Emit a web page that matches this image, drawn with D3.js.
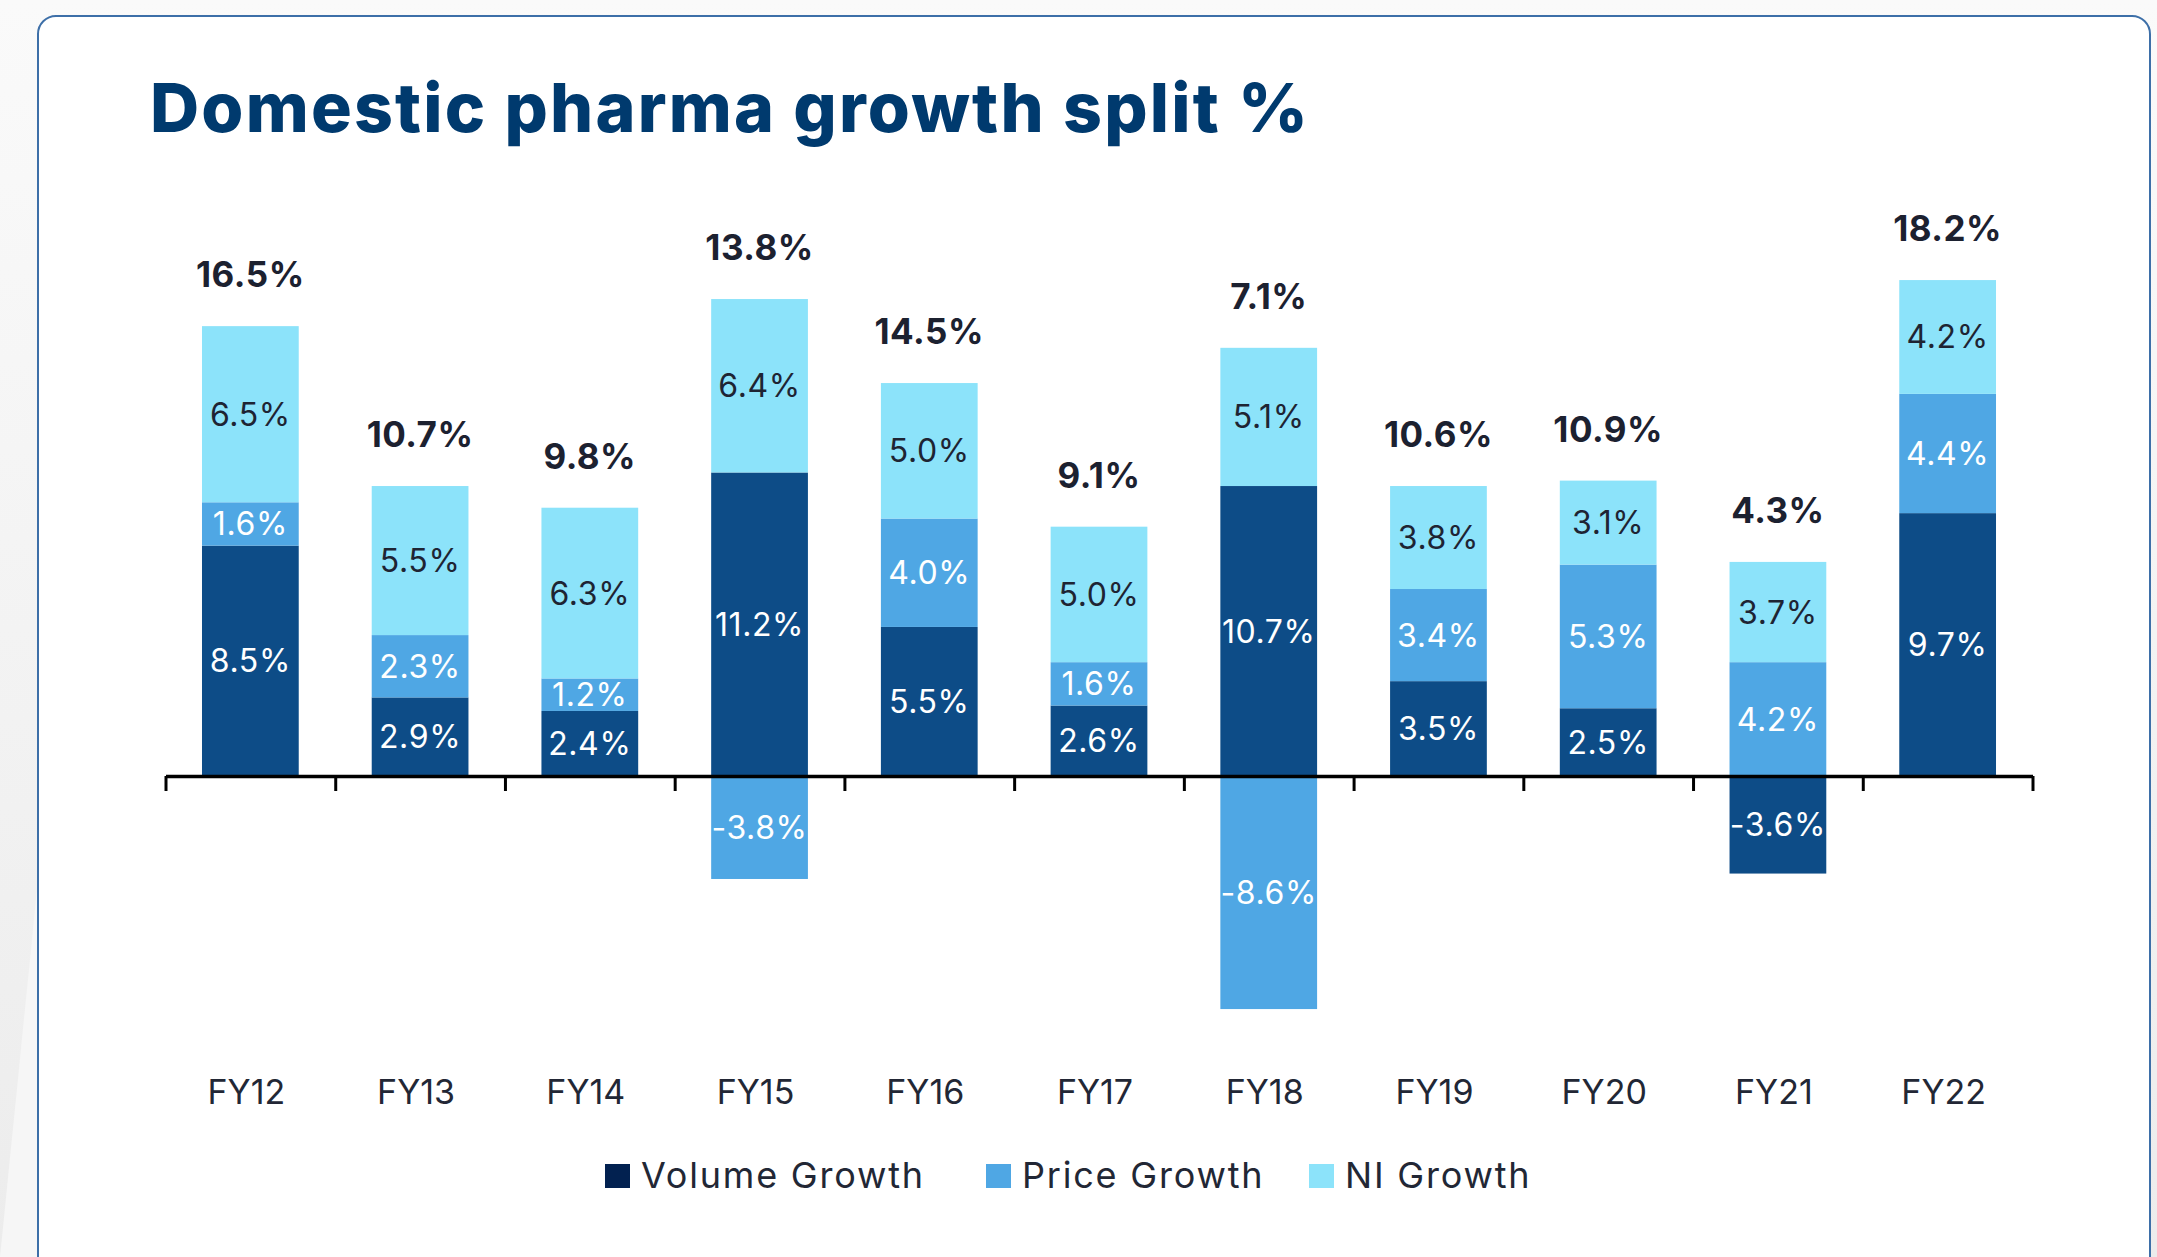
<!DOCTYPE html>
<html lang="en">
<head>
  <meta charset="UTF-8">
  <title>Domestic pharma growth split %</title>
  <script src="https://d3js.org/d3.v7.min.js"></script>
  <style>
    body { margin: 0; background: #f2f2f3; font-family: Inter, "Open Sans", sans-serif; }
    svg { display: block; }
  </style>
</head>
<body>
<svg width="2157" height="1257"></svg>
<script>
const categories = ["FY12", "FY13", "FY14", "FY15", "FY16", "FY17", "FY18", "FY19", "FY20", "FY21", "FY22"];
const volumeGrowth = [8.5, 2.9, 2.4, 11.2, 5.5, 2.6, 10.7, 3.5, 2.5, -3.6, 9.7];
const priceGrowth = [1.6, 2.3, 1.2, -3.8, 4.0, 1.6, -8.6, 3.4, 5.3, 4.2, 4.4];
const niGrowth = [6.5, 5.5, 6.3, 6.4, 5.0, 5.0, 5.1, 3.8, 3.1, 3.7, 4.2];
const totals = [16.5, 10.7, 9.8, 13.8, 14.5, 9.1, 7.1, 10.6, 10.9, 4.3, 18.2];

const seriesNames = ["Volume Growth", "Price Growth", "NI Growth"];
const keys = ["volume", "price", "ni"];
const barColors = { volume: "#0d4c87", price: "#4fa7e4", ni: "#8ce3fa" };
const legendColors = { volume: "#022150", price: "#4fa7e4", ni: "#8ce3fa" };
const textColors = { volume: "#ffffff", price: "#ffffff", ni: "#1e2433" };

const rows = categories.map((c, i) => ({
  cat: c, volume: volumeGrowth[i], price: priceGrowth[i], ni: niGrowth[i], total: totals[i]
}));

const svg = d3.select("svg");

// page background + card
const defs = svg.append("defs");
const bg = defs.append("linearGradient").attr("id", "bg").attr("x1", 0).attr("y1", 0).attr("x2", 0).attr("y2", 1);
bg.append("stop").attr("offset", 0).attr("stop-color", "#fafafa");
bg.append("stop").attr("offset", 1).attr("stop-color", "#ececec");
svg.append("rect").attr("width", 2157).attr("height", 1257).attr("fill", "url(#bg)");
svg.append("path").attr("d", "M0,1257 L38,880 L38,1257 Z").attr("fill", "#f6f6f6");
svg.append("rect")
  .attr("x", 38).attr("y", 16).attr("width", 2112).attr("height", 1300)
  .attr("rx", 18)
  .attr("fill", "#ffffff")
  .attr("stroke", "#3d6fa8")
  .attr("stroke-width", 2);

// title
svg.append("text")
  .attr("x", 150).attr("y", 132)
  .attr("fill", "#003a6e")
  .attr("font-size", 68)
  .attr("font-weight", 800)
  .attr("letter-spacing", 2.2)
  .text("Domestic pharma growth split %");

const x = d3.scaleBand().domain(categories).range([165.5, 2032.5]).paddingInner(0.43).paddingOuter(0.215);
const edge = d3.scaleLinear().domain([0, categories.length]).range([165.5, 2032.5]);
const y = d3.scaleLinear().domain([-10, 20]).range([1047, 234]);

const stack = d3.stack().keys(keys).offset(d3.stackOffsetDiverging);
const series = stack(rows);

const g = svg.append("g");

series.forEach(s => {
  const key = s.key;
  const grp = g.append("g");
  grp.selectAll("rect")
    .data(s)
    .join("rect")
    .attr("x", d => x(d.data.cat))
    .attr("width", x.bandwidth())
    .attr("y", d => y(Math.max(d[0], d[1])))
    .attr("height", d => Math.abs(y(d[0]) - y(d[1])))
    .attr("fill", barColors[key]);

  grp.selectAll("text")
    .data(s)
    .join("text")
    .attr("x", d => x(d.data.cat) + x.bandwidth() / 2)
    .attr("y", d => (y(d[0]) + y(d[1])) / 2)
    .attr("text-anchor", "middle")
    .attr("dominant-baseline", "central")
    .attr("font-size", 32)
    .attr("letter-spacing", 0.6)
    .attr("fill", textColors[key])
    .text(d => d.data[key].toFixed(1) + "%");
});

// totals above bars
g.append("g").selectAll("text")
  .data(rows)
  .join("text")
  .attr("x", d => x(d.cat) + x.bandwidth() / 2)
  .attr("y", d => y(d3.sum(keys, k => Math.max(0, d[k]))) - 39)
  .attr("text-anchor", "middle")
  .attr("font-size", 35)
  .attr("font-weight", 700)
  .attr("letter-spacing", 0.5)
  .attr("fill", "#1c2130")
  .text(d => d.total.toFixed(1) + "%");

// axis with ticks at category edges
const axis = svg.append("g")
  .attr("transform", `translate(0,${y(0)})`)
  .call(d3.axisBottom(edge).tickValues(d3.range(categories.length + 1))
    .tickSize(15).tickSizeOuter(0).tickFormat(""));
axis.select(".domain").attr("stroke", "#000").attr("stroke-width", 3.5);
axis.selectAll(".tick line").attr("stroke", "#000").attr("stroke-width", 3);

// category labels
svg.append("g").selectAll("text")
  .data(categories)
  .join("text")
  .attr("x", d => x(d) + x.bandwidth() / 2 - 4)
  .attr("y", 1104)
  .attr("text-anchor", "middle")
  .attr("font-size", 34)
  .attr("fill", "#222735")
  .text(d => d);

// legend
const legendX = [605, 986, 1309];
const legend = svg.append("g");
keys.forEach((k, i) => {
  legend.append("rect")
    .attr("x", legendX[i]).attr("y", 1164)
    .attr("width", 25).attr("height", 24)
    .attr("fill", legendColors[k]);
  legend.append("text")
    .attr("x", legendX[i] + 36).attr("y", 1188)
    .attr("font-size", 36)
    .attr("letter-spacing", 1.8)
    .attr("fill", "#222735")
    .text(seriesNames[i]);
});
</script>
</body>
</html>
